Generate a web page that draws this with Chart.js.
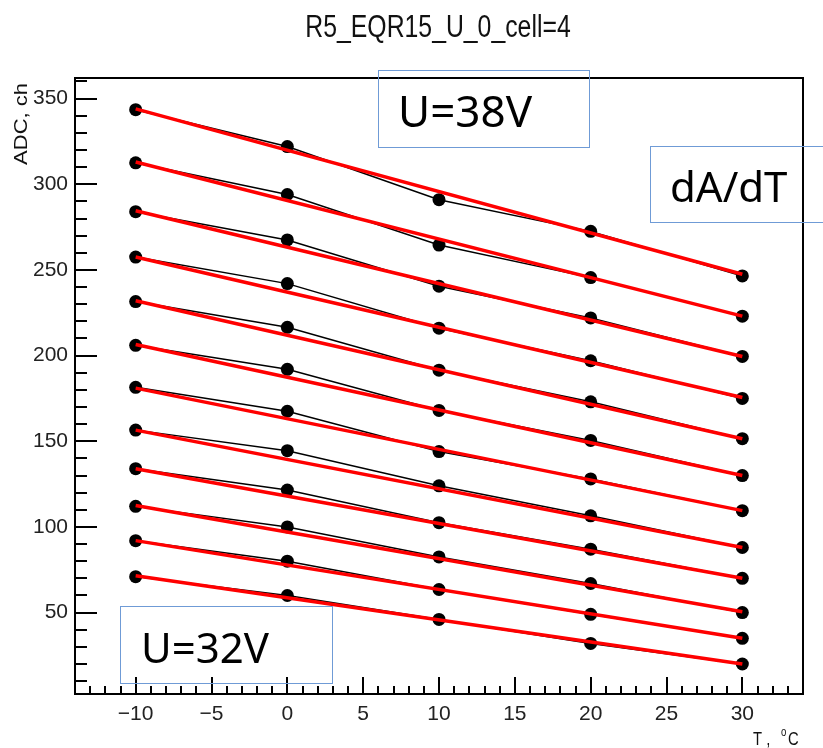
<!DOCTYPE html>
<html>
<head>
<meta charset="utf-8">
<title>R5_EQR15_U_0_cell=4</title>
<script src="https://cdn.jsdelivr.net/npm/chart.js@4.4.1/dist/chart.umd.min.js"></script>
<style>
  html, body { margin: 0; padding: 0; background: #fff; }
  #wrap { width: 823px; height: 748px; }
</style>
</head>
<body>
<div id="wrap"><canvas id="chart" width="823" height="748"></canvas></div>
<script>
const temps = [-10, 0, 10, 20, 30];

// ADC (ch) at each temperature, from the lowest curve (U=32V) up to the top one (U=38V)
const adc01 = [71, 60, 46, 32, 20];
const adc02 = [92, 80, 63.5, 49, 35];
const adc03 = [112, 100, 82.5, 67, 50];
const adc04 = [134, 121.5, 102.5, 87, 70];
const adc05 = [156.5, 144.5, 124, 106.5, 88];
const adc06 = [181.5, 167.5, 144, 128, 109.5];
const adc07 = [206, 192, 168, 150.5, 130];
const adc08 = [231.5, 216.5, 191.5, 173, 151.5];
const adc09 = [257.5, 242, 216, 197, 175];
const adc10 = [284, 267.5, 240.5, 222, 199.5];
const adc11 = [312.5, 294, 264.5, 245.5, 223];
const adc12 = [343.5, 322, 291, 272.5, 246.5];

// red dA/dT fit lines, read at T=-10 and T=30
const fitStart = [71.5, 92, 112.5, 134, 156.5, 181, 206.5, 232, 257.5, 284.5, 313, 344];
const fitEnd = [20, 35, 50.5, 70, 88, 109.5, 130, 151.5, 175.5, 199.5, 223, 247.5];

const xTicks = [-10, -5, 0, 5, 10, 15, 20, 25, 30];
const yTicks = [50, 100, 150, 200, 250, 300, 350];

const series = [adc01, adc02, adc03, adc04, adc05, adc06, adc07, adc08, adc09, adc10, adc11, adc12];

const datasets = [];
series.forEach((vals, i) => {
    datasets.push({
        label: 'points ' + (i + 1),
        data: vals.map((v, j) => ({ x: temps[j], y: v })),
        showLine: true,
        borderColor: '#000',
        borderWidth: 1.5,
        pointRadius: 6.5,
        pointBackgroundColor: '#000',
        pointBorderColor: '#000',
        pointBorderWidth: 0,
        order: 2
    });
    datasets.push({
        label: 'fit ' + (i + 1),
        data: [{ x: temps[0], y: fitStart[i] }, { x: temps[temps.length - 1], y: fitEnd[i] }],
        showLine: true,
        borderColor: '#ff0000',
        borderWidth: 3.5,
        pointRadius: 0,
        order: 1
    });
});

const tickFont = { family: "'Liberation Sans Narrow', 'Liberation Sans', Arial, sans-serif", size: 21 };

// text in the ROOT style: Arial squeezed sideways
function rootText(ctx, str, x, y, size, align, rotate) {
    ctx.save();
    ctx.translate(x, y);
    ctx.scale(0.8, 1);
    if (rotate) ctx.rotate(-Math.PI / 2);
    ctx.font = size + "px 'Liberation Sans', Arial, sans-serif";
    ctx.fillStyle = '#111';
    ctx.textAlign = align;
    ctx.textBaseline = 'alphabetic';
    ctx.fillText(str, 0, 0);
    ctx.restore();
}

function textBox(ctx, str, x0, y0, x1, y1, tx, ty, size) {
    ctx.save();
    ctx.strokeStyle = '#6f9bd6';
    ctx.lineWidth = 1;
    ctx.strokeRect(x0 + 0.5, y0 + 0.5, x1 - x0, y1 - y0);
    ctx.font = size + "px 'Noto Sans', 'Open Sans', sans-serif";
    ctx.fillStyle = '#000';
    ctx.textAlign = 'left';
    ctx.textBaseline = 'alphabetic';
    ctx.fillText(str, tx, ty);
    ctx.restore();
}

const rootFrame = {
    id: 'rootFrame',
    afterDraw(chart) {
        const ctx = chart.ctx;
        const a = chart.chartArea;
        const xs = chart.scales.x;
        const ys = chart.scales.y;
        ctx.save();
        ctx.strokeStyle = '#000';
        ctx.lineWidth = 2;
        ctx.strokeRect(a.left, a.top, a.right - a.left, a.bottom - a.top);

        // ticks point into the frame
        for (let v = -13; v <= 33; v++) {
            const px = Math.round(xs.getPixelForValue(v));
            const len = v % 5 === 0 ? 17 : 8;
            ctx.beginPath();
            ctx.moveTo(px, a.bottom);
            ctx.lineTo(px, a.bottom - len);
            ctx.stroke();
        }
        for (let v = 10; v <= 360; v += 10) {
            const py = Math.round(ys.getPixelForValue(v));
            const len = v % 50 === 0 ? 22 : 12;
            ctx.beginPath();
            ctx.moveTo(a.left, py);
            ctx.lineTo(a.left + len, py);
            ctx.stroke();
        }
        ctx.restore();

        rootText(ctx, 'R5_EQR15_U_0_cell=4', 438, 37, 31, 'center');
        rootText(ctx, 'ADC, ch', 27, 83, 22, 'right', true);
        rootText(ctx, 'T ,', 753, 745, 18.5, 'left');
        rootText(ctx, 'o', 781, 736, 12, 'left');
        rootText(ctx, 'C', 788, 745, 18.5, 'left');

        textBox(ctx, 'U=38V', 378, 70, 589, 147, 398, 127, 44);
        textBox(ctx, 'dA/dT', 650, 146, 830, 222, 670, 202, 42);
        textBox(ctx, 'U=32V', 120, 606, 332, 683, 141, 663, 42);
    }
};

new Chart(document.getElementById('chart'), {
    type: 'scatter',
    data: { datasets: datasets },
    options: {
        responsive: false,
        maintainAspectRatio: false,
        animation: false,
        devicePixelRatio: 1,
        layout: { padding: { top: 78, right: 20, left: 0, bottom: 0 } },
        plugins: {
            legend: { display: false },
            title: { display: false },
            tooltip: { enabled: false }
        },
        scales: {
            x: {
                type: 'linear',
                min: -14,
                max: 34,
                grid: { display: false, drawTicks: false },
                border: { display: false },
                afterBuildTicks: s => { s.ticks = xTicks.map(v => ({ value: v })); },
                afterFit: s => { s.height = 54; },
                ticks: {
                    font: tickFont,
                    color: '#222',
                    padding: 8,
                    maxRotation: 0,
                    callback: v => (v < 0 ? '\u2212' + Math.abs(v) : String(v))
                }
            },
            y: {
                type: 'linear',
                min: 2.5,
                max: 362,
                grid: { display: false, drawTicks: false },
                border: { display: false },
                afterBuildTicks: s => { s.ticks = yTicks.map(v => ({ value: v })); },
                afterFit: s => { s.width = 75; },
                ticks: {
                    font: tickFont,
                    color: '#222',
                    padding: 7
                }
            }
        }
    },
    plugins: [rootFrame]
});
</script>
</body>
</html>
